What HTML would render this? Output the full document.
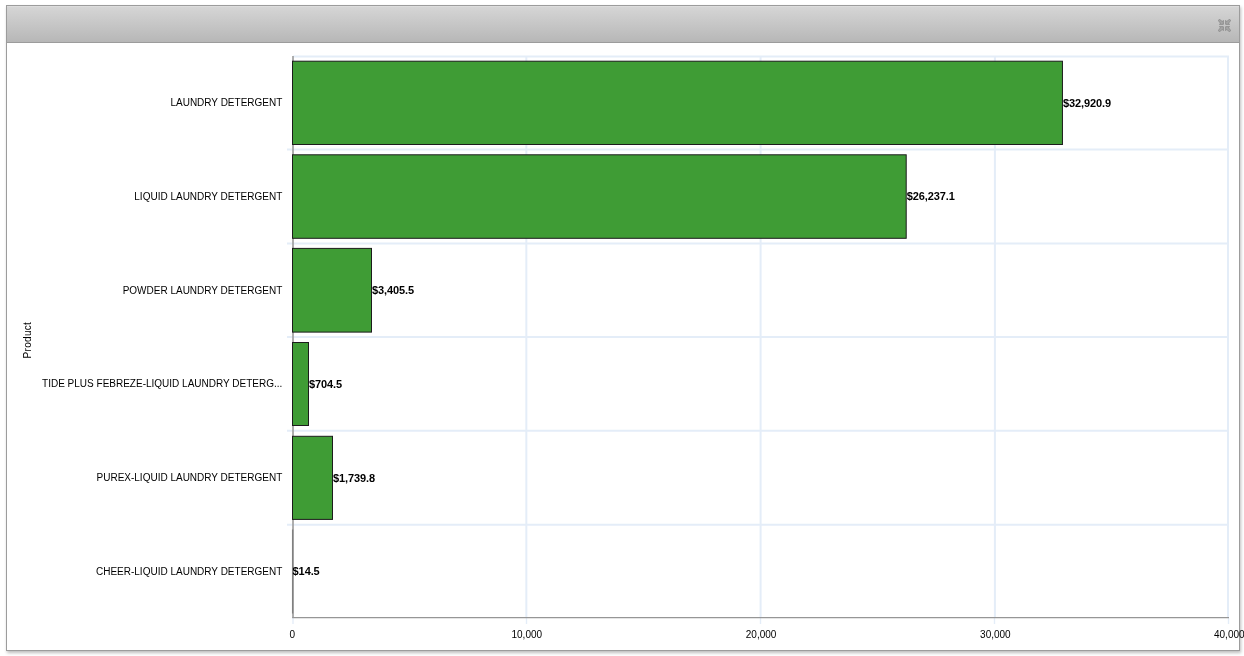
<!DOCTYPE html>
<html><head><meta charset="utf-8"><title>Chart</title>
<style>
html,body{margin:0;padding:0;background:#fff;width:1244px;height:656px;overflow:hidden}
body{font-family:"Liberation Sans",Arial,sans-serif;font-size:11px;color:#000}
#panel{position:absolute;left:6px;top:5px;width:1232px;height:644px;border:1px solid #9c9c9c;background:#fff;box-shadow:1px 2px 3px rgba(0,0,0,.26)}
#hdr{position:absolute;left:0;top:0;width:1232px;height:36px;border-bottom:1px solid #9c9c9c;background:linear-gradient(#d6d6d6,#b7b7b7);box-shadow:inset 0 1px 0 rgba(255,255,255,.18)}
#chart{position:absolute;left:0;top:37px;width:1232px;height:607px}
text{font-family:"Liberation Sans",Arial,sans-serif;font-size:10px;fill:#000}
text.v{font-weight:bold;font-size:11px;letter-spacing:-0.1px}
</style></head><body>
<div id="panel"><div id="hdr"><svg width="13" height="13" viewBox="0 0 13 13" style="position:absolute;left:1211px;top:12.9px;overflow:visible">
<g fill="#a6a6a6" stroke="#8b8b8b" stroke-width="0.9" stroke-linejoin="round">
<path d="M5.35 1.4 L5.35 5.35 L1.4 5.35 L2.7 4.2 L0.8 2.4 Q0.2 1.4 0.8 0.8 Q1.4 0.2 2.4 0.8 L4.2 2.7 Z"/>
<path d="M5.35 1.4 L5.35 5.35 L1.4 5.35 L2.7 4.2 L0.8 2.4 Q0.2 1.4 0.8 0.8 Q1.4 0.2 2.4 0.8 L4.2 2.7 Z" transform="translate(13,0) scale(-1,1)"/>
<path d="M5.35 1.4 L5.35 5.35 L1.4 5.35 L2.7 4.2 L0.8 2.4 Q0.2 1.4 0.8 0.8 Q1.4 0.2 2.4 0.8 L4.2 2.7 Z" transform="translate(0,13) scale(1,-1)"/>
<path d="M5.35 1.4 L5.35 5.35 L1.4 5.35 L2.7 4.2 L0.8 2.4 Q0.2 1.4 0.8 0.8 Q1.4 0.2 2.4 0.8 L4.2 2.7 Z" transform="translate(13,13) scale(-1,-1)"/>
</g></svg></div>
<div id="chart"><svg width="1232" height="607" viewBox="0 0 1232 607" style="position:absolute;left:0;top:0;overflow:visible">
<line x1="286" y1="13.5" x2="1222" y2="13.5" stroke="#e4edf8" stroke-width="2"/>
<line x1="280" y1="106.6" x2="1222" y2="106.6" stroke="#e4edf8" stroke-width="2"/>
<line x1="280" y1="200.5" x2="1222" y2="200.5" stroke="#e4edf8" stroke-width="2"/>
<line x1="280" y1="294.1" x2="1222" y2="294.1" stroke="#e4edf8" stroke-width="2"/>
<line x1="280" y1="387.8" x2="1222" y2="387.8" stroke="#e4edf8" stroke-width="2"/>
<line x1="280" y1="481.7" x2="1222" y2="481.7" stroke="#e4edf8" stroke-width="2"/>
<line x1="519.35" y1="13" x2="519.35" y2="575" stroke="#e4edf8" stroke-width="2"/>
<line x1="753.6" y1="13" x2="753.6" y2="575" stroke="#e4edf8" stroke-width="2"/>
<line x1="987.9" y1="13" x2="987.9" y2="575" stroke="#e4edf8" stroke-width="2"/>
<line x1="1221.0" y1="13" x2="1221.0" y2="575" stroke="#e4edf8" stroke-width="2"/>
<line x1="286.0" y1="575" x2="286.0" y2="581" stroke="#e4edf8" stroke-width="1.4"/>
<line x1="519.5" y1="575" x2="519.5" y2="581" stroke="#e4edf8" stroke-width="1.4"/>
<line x1="753.5" y1="575" x2="753.5" y2="581" stroke="#e4edf8" stroke-width="1.4"/>
<line x1="987.5" y1="575" x2="987.5" y2="581" stroke="#e4edf8" stroke-width="1.4"/>
<line x1="1221.5" y1="575" x2="1221.5" y2="581" stroke="#e4edf8" stroke-width="1.4"/>
<line x1="286.0" y1="13" x2="286.0" y2="575" stroke="#a0a0a0" stroke-width="1.7"/>
<line x1="285.2" y1="574.6" x2="1222" y2="574.6" stroke="#969696" stroke-width="1.2"/>
<rect x="285.5" y="18.2" width="769.95" height="83.30" fill="#3f9c35" stroke="#1c1c1c" stroke-width="1"/>
<rect x="285.5" y="111.8" width="613.70" height="83.50" fill="#3f9c35" stroke="#1c1c1c" stroke-width="1"/>
<rect x="285.5" y="205.4" width="79.00" height="83.70" fill="#3f9c35" stroke="#1c1c1c" stroke-width="1"/>
<rect x="285.5" y="299.5" width="16.00" height="83.00" fill="#3f9c35" stroke="#1c1c1c" stroke-width="1"/>
<rect x="285.5" y="393.3" width="40.00" height="83.10" fill="#3f9c35" stroke="#1c1c1c" stroke-width="1"/>
<rect x="285.45" y="487.0" width="0.3" height="83.00" fill="#3f9c35" stroke="#808080" stroke-width="1"/>
<text x="275.3" y="63" text-anchor="end" class="c">LAUNDRY DETERGENT</text>
<text x="1055.95" y="64" class="v">$32,920.9</text>
<text x="275.3" y="157" text-anchor="end" class="c">LIQUID LAUNDRY DETERGENT</text>
<text x="899.7" y="157" class="v">$26,237.1</text>
<text x="275.3" y="251" text-anchor="end" class="c">POWDER LAUNDRY DETERGENT</text>
<text x="365.0" y="251" class="v">$3,405.5</text>
<text x="275.3" y="344" text-anchor="end" class="c">TIDE PLUS FEBREZE-LIQUID LAUNDRY DETERG...</text>
<text x="302.0" y="345" class="v">$704.5</text>
<text x="275.3" y="438" text-anchor="end" class="c">PUREX-LIQUID LAUNDRY DETERGENT</text>
<text x="326.0" y="439" class="v">$1,739.8</text>
<text x="275.3" y="532" text-anchor="end" class="c">CHEER-LIQUID LAUNDRY DETERGENT</text>
<text x="285.6" y="532" class="v">$14.5</text>
<text x="285.3" y="595" text-anchor="middle" class="c">0</text>
<text x="519.8" y="595" text-anchor="middle" class="c">10,000</text>
<text x="754.1" y="595" text-anchor="middle" class="c">20,000</text>
<text x="988.4" y="595" text-anchor="middle" class="c">30,000</text>
<text x="1222.3" y="595" text-anchor="middle" class="c">40,000</text>
<text transform="translate(23.5,297.1) rotate(-90)" text-anchor="middle" class="c" style="letter-spacing:0.3px">Product</text>
</svg></div></div>
</body></html>
